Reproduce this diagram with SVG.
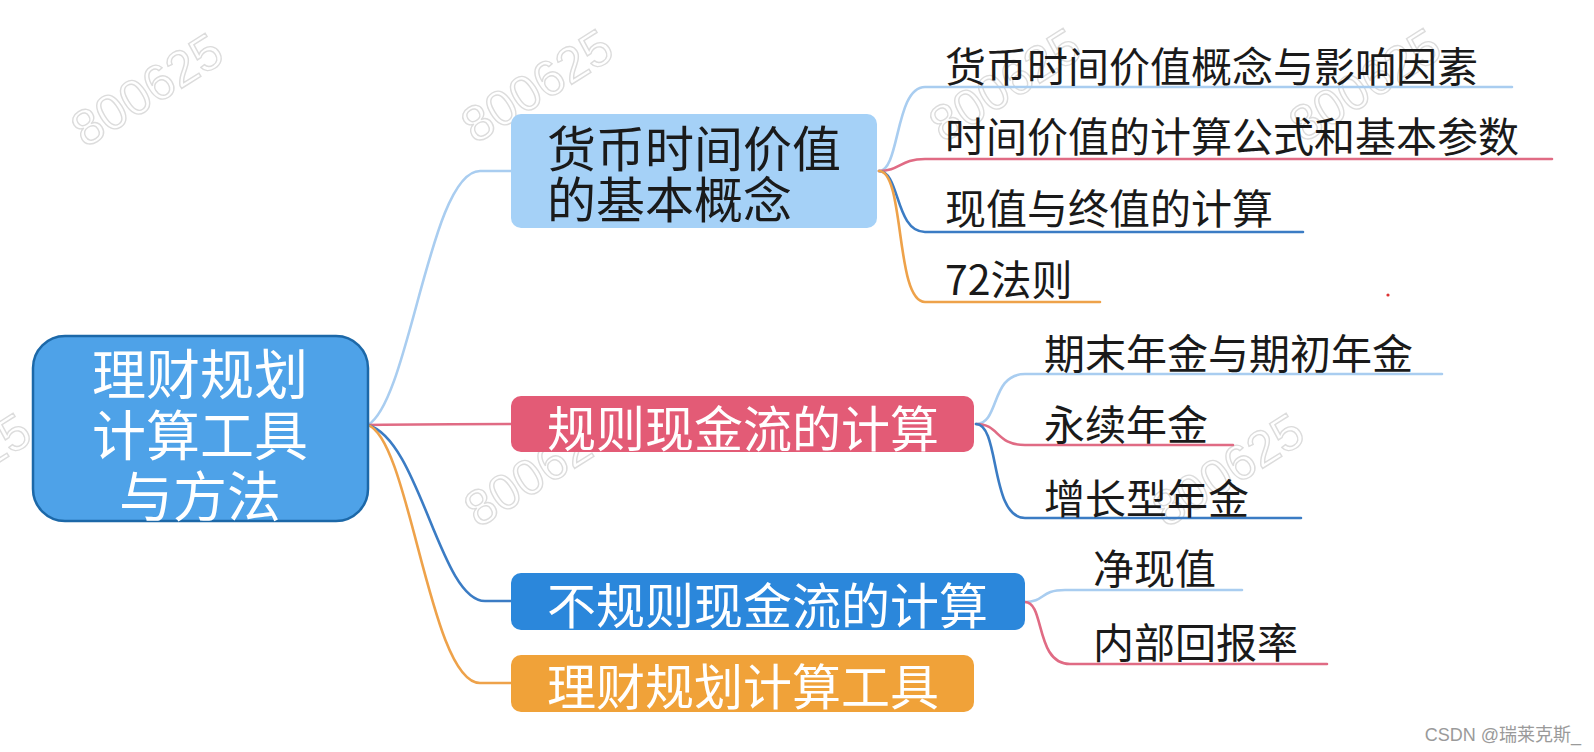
<svg xmlns="http://www.w3.org/2000/svg" width="1594" height="752" viewBox="0 0 1594 752">
<defs>
<style>
.t{font-family:"Noto Sans CJK SC","Noto Sans",sans-serif;dominant-baseline:central}
.w{fill:#ffffff}
.k{fill:#1a1a1a}
.wm{font-family:"Liberation Sans",Arial,sans-serif;font-size:50px;fill:none;stroke:#dcdcdc;stroke-width:1.4;text-anchor:middle;dominant-baseline:central}
.c{fill:none;stroke-width:2.6;stroke-linecap:round}
.lb{stroke:#a9cdf0}
.pk{stroke:#e06b84}
.bl{stroke:#3b7cc4}
.or{stroke:#eea24a}
</style>
</defs>
<rect width="1594" height="752" fill="#ffffff"/>
<g id="watermarks">
<text class="wm" transform="translate(147,90) rotate(-32)">800625</text>
<text class="wm" transform="translate(537,86) rotate(-32)">800625</text>
<text class="wm" transform="translate(1005,85) rotate(-32)">800625</text>
<text class="wm" transform="translate(1365,85) rotate(-32)">800625</text>
<text class="wm" transform="translate(-45,470) rotate(-32)">800625</text>
<text class="wm" transform="translate(540,470) rotate(-32)">800625</text>
<text class="wm" transform="translate(1228,470) rotate(-32)">800625</text>
</g>
<g id="connectors">
<path class="c lb" d="M368,425 C410,400 430,171 480,171 L511,171"/>
<path class="c pk" d="M368,425 C430,424 450,424 511,424"/>
<path class="c bl" d="M368,425 C420,440 440,601 485,601 L511,601"/>
<path class="c or" d="M368,425 C410,440 430,683 480,683 L511,683"/>
<path class="c lb" d="M879,171 C900,171 895,87 925,87 L1512,87"/>
<path class="c pk" d="M879,171 C900,171 900,159 925,159 L1552,159"/>
<path class="c bl" d="M879,171 C900,171 895,232 925,232 L1303,232"/>
<path class="c or" d="M879,171 C905,171 895,302 925,302 L1100,302"/>
<path class="c lb" d="M976,424 C1000,424 990,374 1025,374 L1442,374"/>
<path class="c pk" d="M976,424 C1000,424 995,445 1025,445 L1233,445"/>
<path class="c bl" d="M976,424 C1000,424 990,518 1025,518 L1301,518"/>
<path class="c lb" d="M1025,602 C1045,602 1040,590 1065,590 L1242,590"/>
<path class="c pk" d="M1025,602 C1045,602 1035,664 1070,664 L1327,664"/>
</g>
<g id="root">
<rect x="33" y="336" width="335" height="185" rx="32" fill="#4ea2e8" stroke="#1c68a8" stroke-width="2.5"/>
<text class="t w" x="200" y="371" font-size="54" text-anchor="middle">理财规划</text>
<text class="t w" x="200" y="432" font-size="54" text-anchor="middle">计算工具</text>
<text class="t w" x="200" y="493" font-size="54" text-anchor="middle">与方法</text>
</g>
<g id="node1">
<rect x="511" y="114" width="366" height="114" rx="10" fill="#a5d1f7"/>
<text class="t k" x="547" y="145" font-size="49">货币时间价值</text>
<text class="t k" x="547" y="196" font-size="49">的基本概念</text>
</g>
<g id="node2">
<rect x="511" y="396" width="463" height="56" rx="10" fill="#e35b76"/>
<text class="t w" x="547" y="425" font-size="49">规则现金流的计算</text>
</g>
<g id="node3">
<rect x="511" y="573" width="514" height="57" rx="10" fill="#2b87db"/>
<text class="t w" x="547" y="602" font-size="49">不规则现金流的计算</text>
</g>
<g id="node4">
<rect x="511" y="655" width="463" height="57" rx="10" fill="#f0a239"/>
<text class="t w" x="547" y="683" font-size="49">理财规划计算工具</text>
</g>
<g id="leaf1a"><text class="t k" x="945" y="64" font-size="41">货币时间价值概念与影响因素</text></g>
<g id="leaf1b"><text class="t k" x="945" y="134" font-size="41">时间价值的计算公式和基本参数</text></g>
<g id="leaf1c"><text class="t k" x="945" y="206" font-size="41">现值与终值的计算</text></g>
<g id="leaf1d"><text class="t k" x="945" y="277" font-size="41">72法则</text></g>
<g id="leaf2a"><text class="t k" x="1044" y="351" font-size="41">期末年金与期初年金</text></g>
<g id="leaf2b"><text class="t k" x="1044" y="422" font-size="41">永续年金</text></g>
<g id="leaf2c"><text class="t k" x="1044" y="496" font-size="41">增长型年金</text></g>
<g id="leaf3a"><text class="t k" x="1093" y="566" font-size="41">净现值</text></g>
<g id="leaf3b"><text class="t k" x="1093" y="640" font-size="41">内部回报率</text></g>
<circle cx="1388" cy="295" r="1.6" fill="#d33"/>
<text x="1581" y="741" font-family="'Liberation Sans','Noto Sans CJK SC',sans-serif" font-size="18" fill="#9a9a9a" text-anchor="end">CSDN @瑞莱克斯_</text>
</svg>
